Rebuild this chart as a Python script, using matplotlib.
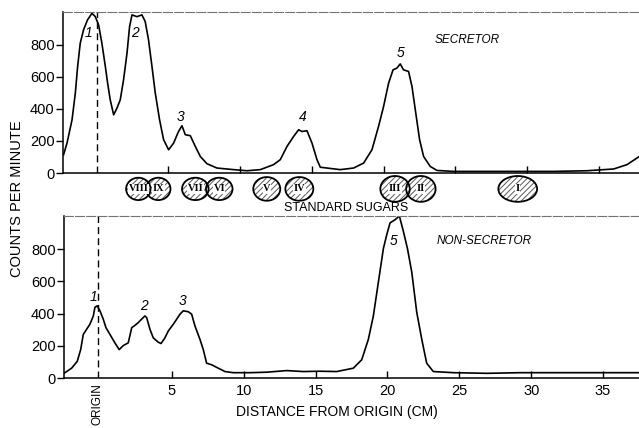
import numpy as np
import matplotlib
matplotlib.use('Agg')
import matplotlib.pyplot as plt
from matplotlib.patches import Ellipse

plt.rcParams['font.family'] = ['Liberation Sans', 'DejaVu Sans']
plt.rcParams['hatch.linewidth'] = 0.7

# Secretor trace (distance cm, counts per minute)
secretorX = [-2.3, -2.06, -1.71, -1.48, -1.32, -1.14, -0.91, -0.63, -0.32, -0.09, 0.14, 0.37, 0.61, 0.77,
             0.95, 1.19, 1.42, 1.65, 1.88, 2.12, 2.30, 2.47, 2.81, 3.16, 3.39, 3.62, 3.86, 4.09, 4.39, 4.67,
             5.02, 5.37, 5.71, 5.95, 6.18, 6.53, 6.88, 7.23, 7.69, 8.39, 9.55, 10.48, 11.41, 12.33, 12.80,
             13.27, 13.73, 14.08, 14.31, 14.66, 15.01, 15.36, 15.59, 16.98, 17.91, 18.61, 19.19, 19.65,
             20.0, 20.35, 20.66, 20.93, 21.16, 21.39, 21.74, 21.98, 22.21, 22.51, 22.79, 23.25, 23.72,
             24.88, 27.2, 29.53, 31.85, 34.17, 36.03, 36.96, 37.82]
secretorY = [114, 187, 332, 499, 665, 810, 893, 956, 997, 976, 925, 810, 665, 561,
             457, 363, 405, 457, 582, 748, 914, 987, 976, 987, 945, 831, 665, 499, 332, 208,
             145, 187, 259, 295, 239, 233, 166, 103, 58, 31, 21, 14, 21, 52, 83,
             166, 228, 270, 259, 264, 187, 83, 36, 21, 31, 62, 145, 291,
             415, 561, 644, 655, 681, 644, 634, 540, 395, 208, 103, 41, 16,
             10, 10, 10, 10, 14, 25, 52, 103]

# Non-secretor trace
nonSecretorX = [-2.5, -1.97, -1.58, -1.34, -1.16, -0.93, -0.70, -0.46, -0.35, -0.19, 0.0, 0.23, 0.42, 0.70,
                1.04, 1.34, 1.62, 1.97, 2.21, 2.44, 2.67, 2.90, 3.13, 3.25, 3.48, 3.71, 4.06, 4.25, 4.52,
                4.75, 5.10, 5.34, 5.57, 5.80, 6.15, 6.38, 6.61, 6.96, 7.19, 7.42, 7.77, 8.23, 8.70, 9.28,
                10.44, 11.6, 12.99, 14.15, 15.28, 16.47, 17.63, 18.21, 18.67, 19.02, 19.37, 19.72, 19.95,
                20.18, 20.53, 20.83, 21.11, 21.39, 21.69, 22.04, 22.39, 22.73, 23.19, 24.59, 26.91, 29.23,
                31.55, 33.87, 37.5]
nonSecretorY = [29, 61, 103, 176, 270, 302, 333, 385, 438, 448, 417, 365, 312, 270,
                218, 176, 201, 218, 312, 327, 344, 365, 385, 375, 302, 249, 222, 214, 249,
                291, 333, 365, 396, 417, 411, 396, 323, 239, 176, 92, 82, 61, 40, 33,
                33, 36, 46, 40, 42, 40, 61, 113, 239, 385, 595, 804, 888,
                962, 982, 1005, 909, 804, 658, 407, 239, 92, 40, 33, 29, 33,
                33, 33, 33]

# peak labels
secretorPeaks = ['1', '2', '3', '4', '5']
secretorPeakX = [-0.55, 2.70, 5.83, 14.34, 21.16]
secretorPeakY = [875, 875, 351, 351, 750]
nonSecretorPeaks = ['1', '2', '3', '5']
nonSecretorPeakX = [-0.45, 3.06, 5.78, 20.46]
nonSecretorPeakY = [503, 446, 478, 849]

# standard sugars (centre in cm, width in cm)
sugarNames = ['VIII', 'IX', 'VII', 'VI', 'V', 'IV', 'III', 'II', 'I']
sugarX = [2.91, 4.30, 6.88, 8.55, 11.86, 14.13, 20.8, 22.6, 29.35]
sugarW = [1.7, 1.7, 1.85, 1.85, 1.88, 1.95, 2.05, 2.05, 2.7]
sugarH = [0.52, 0.52, 0.52, 0.52, 0.55, 0.55, 0.6, 0.6, 0.6]

yTicks = [0, 200, 400, 600, 800]
xTicks = [5, 10, 15, 20, 25, 30, 35]

fig = plt.figure(figsize=(6.39, 4.28), dpi=100)
axTop = fig.add_axes([63 / 639, 1 - 173 / 428, 1 - 63 / 639, (173 - 12) / 428])
axMid = fig.add_axes([63 / 639, 1 - 216 / 428, 1 - 63 / 639, (216 - 173) / 428])
axBot = fig.add_axes([64 / 639, 1 - 378 / 428, 1 - 64 / 639, (378 - 216) / 428])

for ax in [axTop, axBot]:
    ax.set_ylim(0, 1005)
    ax.set_yticks(yTicks)
    ax.set_xticks(xTicks)
    ax.spines['right'].set_visible(False)
    ax.spines['top'].set_color('0.45')
    ax.spines['top'].set_linestyle((0, (8, 2)))
    ax.spines['top'].set_linewidth(0.8)
    ax.spines['left'].set_linewidth(1.1)
    ax.spines['bottom'].set_linewidth(1.1)
    ax.tick_params(axis='y', direction='out', length=5, width=1, labelsize=10.5, pad=1)
    ax.tick_params(axis='x', direction='in', length=5, width=1, labelsize=10.5, pad=4)

axTop.set_xlim(-2.34, 37.8)
axBot.set_xlim(-2.5, 37.5)
axMid.set_xlim(-2.34, 37.8)
axMid.set_ylim(0, 1)
axMid.axis('off')

axTop.plot(secretorX, secretorY, color='black', lw=1.2)
axBot.plot(nonSecretorX, nonSecretorY, color='black', lw=1.2)
axTop.axvline(0, color='black', lw=1, dashes=(5, 3))
axBot.axvline(-0.15, color='black', lw=1, dashes=(5, 3))
axTop.tick_params(axis='x', labelbottom=False)

for lbl, x, y in zip(secretorPeaks, secretorPeakX, secretorPeakY):
    axTop.text(x, y, lbl, fontsize=10, style='italic', ha='center', va='center')
for lbl, x, y in zip(nonSecretorPeaks, nonSecretorPeakX, nonSecretorPeakY):
    axBot.text(x, y, lbl, fontsize=10, style='italic', ha='center', va='center')

axTop.text(25.8, 831, 'SECRETOR', fontsize=8.5, style='italic', ha='center', va='center')
axBot.text(26.7, 849, 'NON-SECRETOR', fontsize=8.5, style='italic', ha='center', va='center')

# sugar spots
for name, x, w, h in zip(sugarNames, sugarX, sugarW, sugarH):
    axMid.add_patch(Ellipse((x, 0.63), w, h, facecolor='white', edgecolor='0.35',
                            hatch='//////', lw=0, zorder=2))
for name, x, w, h in zip(sugarNames, sugarX, sugarW, sugarH):
    axMid.add_patch(Ellipse((x, 0.63), w, h, facecolor='none', edgecolor='black', lw=1.3, zorder=3))
    axMid.text(x, 0.63, name, fontsize=7.5, fontweight='bold', family='Liberation Serif',
               ha='center', va='center', zorder=4,
               bbox=dict(facecolor='white', edgecolor='none', pad=0.3))
axMid.text(17.4, 0.19, 'STANDARD SUGARS', fontsize=9, ha='center', va='center')

axBot.text(-0.15, -0.03, 'ORIGIN', transform=axBot.get_xaxis_transform(), rotation=90,
           fontsize=8.5, ha='center', va='top')
fig.text(337 / 639, 1 - 412 / 428, 'DISTANCE FROM ORIGIN (CM)', fontsize=10, ha='center', va='center')
fig.text(17 / 639, 1 - 199 / 428, 'COUNTS PER MINUTE', fontsize=10.5, rotation=90, ha='center', va='center')

fig.savefig('out.png', dpi=100)
